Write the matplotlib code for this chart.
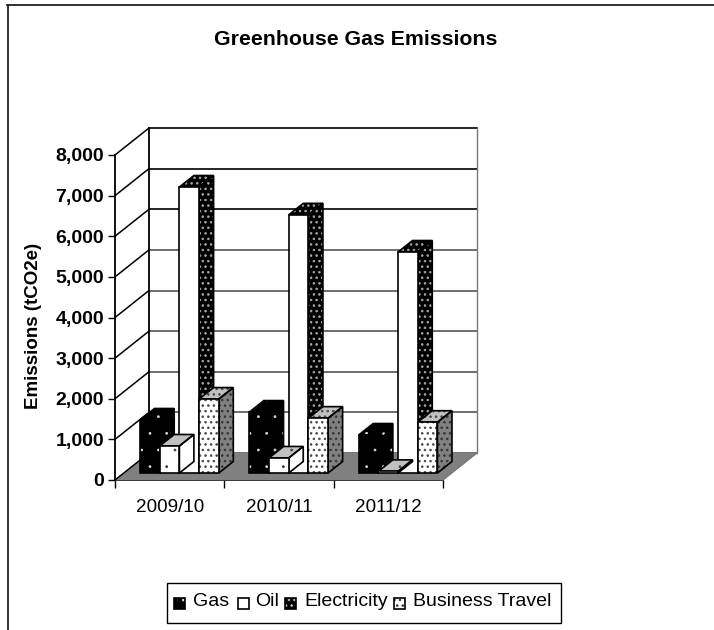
import matplotlib
matplotlib.use("Agg")
import matplotlib.pyplot as plt
import matplotlib.hatch as mhatch
from matplotlib.patches import Polygon, Rectangle
from matplotlib.transforms import Affine2D
from matplotlib.lines import Line2D
import numpy as np

plt.rcParams['font.family'] = ['Liberation Sans', 'DejaVu Sans']
plt.rcParams['hatch.linewidth'] = 0.5
# small solid dots for the sparse and the dense stipple patterns
mhatch.SmallFilledCircles.size = 0.06
mhatch.SmallCircles.size = 0.16
mhatch.SmallCircles.filled = True

categories = ['2009/10', '2010/11', '2011/12']
gas = [1305, 1500, 935]
oil = [665, 370, 40]
electricity = [7040, 6355, 5440]
travel = [1820, 1350, 1250]
y_ticks = [0, 1000, 2000, 3000, 4000, 5000, 6000, 7000, 8000]
title = 'Greenhouse Gas Emissions'
ylabel = 'Emissions (tCO2e)'

W, H = 714, 630
fig = plt.figure(figsize=(W/100, H/100), dpi=100)
L, R, T, B = 115, 443, 155, 480
ax = fig.add_axes([L/W, 1-B/H, (R-L)/W, (B-T)/H])
ax.set_xlim(0, 3)
ax.set_ylim(0, 8000)
ax.patch.set_alpha(0)
for s in ['top', 'right', 'bottom']:
    ax.spines[s].set_visible(False)
ax.spines['left'].set_color('black')
ax.spines['left'].set_linewidth(1.3)

DX, DY = 34, 27   # depth of the walls in px


def shift(dx, dy):
    return ax.transData + Affine2D().translate(dx, dy)


# walls and floor
pts = ax.transData.transform([(0, 0), (3, 0)])
fig.add_artist(Polygon([pts[0], pts[1], pts[1]+[DX, DY], pts[0]+[DX, DY]], closed=True,
                       transform=None, fc='#808080', ec='#808080', lw=0.5, zorder=1))

for v in y_ticks:
    ax.plot([0, 3], [v, v], color='black' if v >= 6000 else '#555555', lw=1.2,
            transform=shift(DX, DY), zorder=1.5, clip_on=False)
    p = ax.transData.transform((0, v))
    fig.add_artist(Line2D([p[0], p[0]+DX], [p[1], p[1]+DY], transform=None,
                          color='black', lw=1.1, zorder=1.6))
ax.plot([0, 0], [0, 8000], color='black', lw=1.3, transform=shift(DX, DY),
        zorder=1.5, clip_on=False)
ax.plot([3, 3], [0, 8000], color='#777777', lw=1.0, transform=shift(DX, DY),
        zorder=1.5, clip_on=False)

# ticks
ax.set_yticks(y_ticks)
ax.set_yticklabels([f'{v:,}' for v in y_ticks], fontsize=14, fontweight='bold', va='center_baseline')
ax.tick_params(axis='y', length=5, width=1.0, pad=3)
ax.set_xticks([0, 1, 2, 3])
ax.set_xticklabels([])
ax.tick_params(axis='x', length=6, width=1.0)
ax.set_xticks([0.5, 1.5, 2.5], minor=True)
ax.set_xticklabels(categories, minor=True, fontsize=13.6)
ax.tick_params(axis='x', which='minor', length=0, pad=14)
ax.plot([0, 3], [0, 0], color='black', lw=1.3, clip_on=False, zorder=2)
p = ax.transData.transform((3, 0))
fig.add_artist(Line2D([p[0], p[0]+DX], [p[1], p[1]+DY], transform=None, color='#777777', lw=0.8))

# bars
BW = 19.7 / ((R-L)/3)       # bar width in data units
BDX, BDY = 14.5, 11.5       # bar depth in px
BASE = 7                    # bar base lift in px
X0 = 25 / ((R-L)/3)         # first bar start inside category

styles = {
    'gas':  dict(front=('black', '#dddddd', '.'), side=('black', '#dddddd', '.'), top=('black', '#dddddd', '.')),
    'oil':  dict(front=('white', '#333333', '.'), side=('white', None, None), top=('#c0c0c0', '#444444', '.')),
    'elec': dict(front=('white', None, None), side=('black', '#aaaaaa', 'ooo'), top=('black', '#aaaaaa', 'ooo')),
    'trav': dict(front=('white', '#444444', 'ooo'), side=('#808080', '#333333', 'ooo'), top=('#c0c0c0', '#444444', 'ooo')),
}


def face(xy, spec, z):
    fc, hc, hatch = spec
    fig.add_artist(Polygon(xy, closed=True, transform=None, fc=fc, ec=hc if hc else fc,
                           hatch=hatch, lw=0, zorder=z))
    fig.add_artist(Polygon(xy, closed=True, transform=None, fill=False, ec='black',
                           lw=1.2, zorder=z+0.01))


def bar3d(x_left, value, style, z):
    a = ax.transData.transform((x_left, 0)) + [0, BASE]
    b = ax.transData.transform((x_left+BW, value)) + [0, BASE]
    x0, y0, x1, y1 = a[0], a[1], b[0], b[1]
    face([(x0, y1), (x1, y1), (x1+BDX, y1+BDY), (x0+BDX, y1+BDY)], style['top'], z)
    face([(x1, y0), (x1, y1), (x1+BDX, y1+BDY), (x1+BDX, y0+BDY)], style['side'], z)
    face([(x0, y0), (x1, y0), (x1, y1), (x0, y1)], style['front'], z+0.02)


series = [(gas, 'gas'), (oil, 'oil'), (electricity, 'elec'), (travel, 'trav')]
for c in range(3):
    for s, (vals, name) in enumerate(series):
        order = {0: 3, 1: 5, 2: 3.5, 3: 6}[s]
        bar3d(c + X0 + s*BW, vals[c], styles[name], order + s*0.1 + c*0.001)

# title, y label
fig.text(356/W, 1-39.5/H, title, ha='center', va='center', fontsize=15.3, fontweight='bold')
fig.text(34/W, 1-326/H, ylabel, ha='center', va='center', rotation=90, fontsize=13.5, fontweight='bold')

# chart border: left and top only
fig.add_artist(Line2D([7.5/W, 7.5/W], [0, 1-5/H], color='#222222', lw=1.3))
fig.add_artist(Line2D([7/W, 1], [1-5/H, 1-5/H], color='#222222', lw=1.3))

# legend
fig.add_artist(Rectangle((167/W, 1-623/H), 394/W, 40/H, transform=fig.transFigure, fill=False, ec='black', lw=1.0))
legend = [('Gas', 174, 192.5, ('black', '#dddddd', '.')),
          ('Oil', 237.5, 255, ('white', None, None)),
          ('Electricity', 285, 304, ('black', '#bbbbbb', 'ooo')),
          ('Business Travel', 394, 413, ('white', '#333333', 'ooo'))]
for lab, bx, tx, spec in legend:
    fig.add_artist(Rectangle((bx/W, 1-609/H), 11/W, 11/H, transform=fig.transFigure,
                             fc=spec[0], ec=spec[1] or 'black', hatch=spec[2], lw=0))
    fig.add_artist(Rectangle((bx/W, 1-609/H), 11/W, 11/H, transform=fig.transFigure,
                             fill=False, ec='black', lw=1.2))
    fig.text(tx/W, 1-602/H, lab, ha='left', va='center', fontsize=14)

fig.savefig('out.png', dpi=100)
